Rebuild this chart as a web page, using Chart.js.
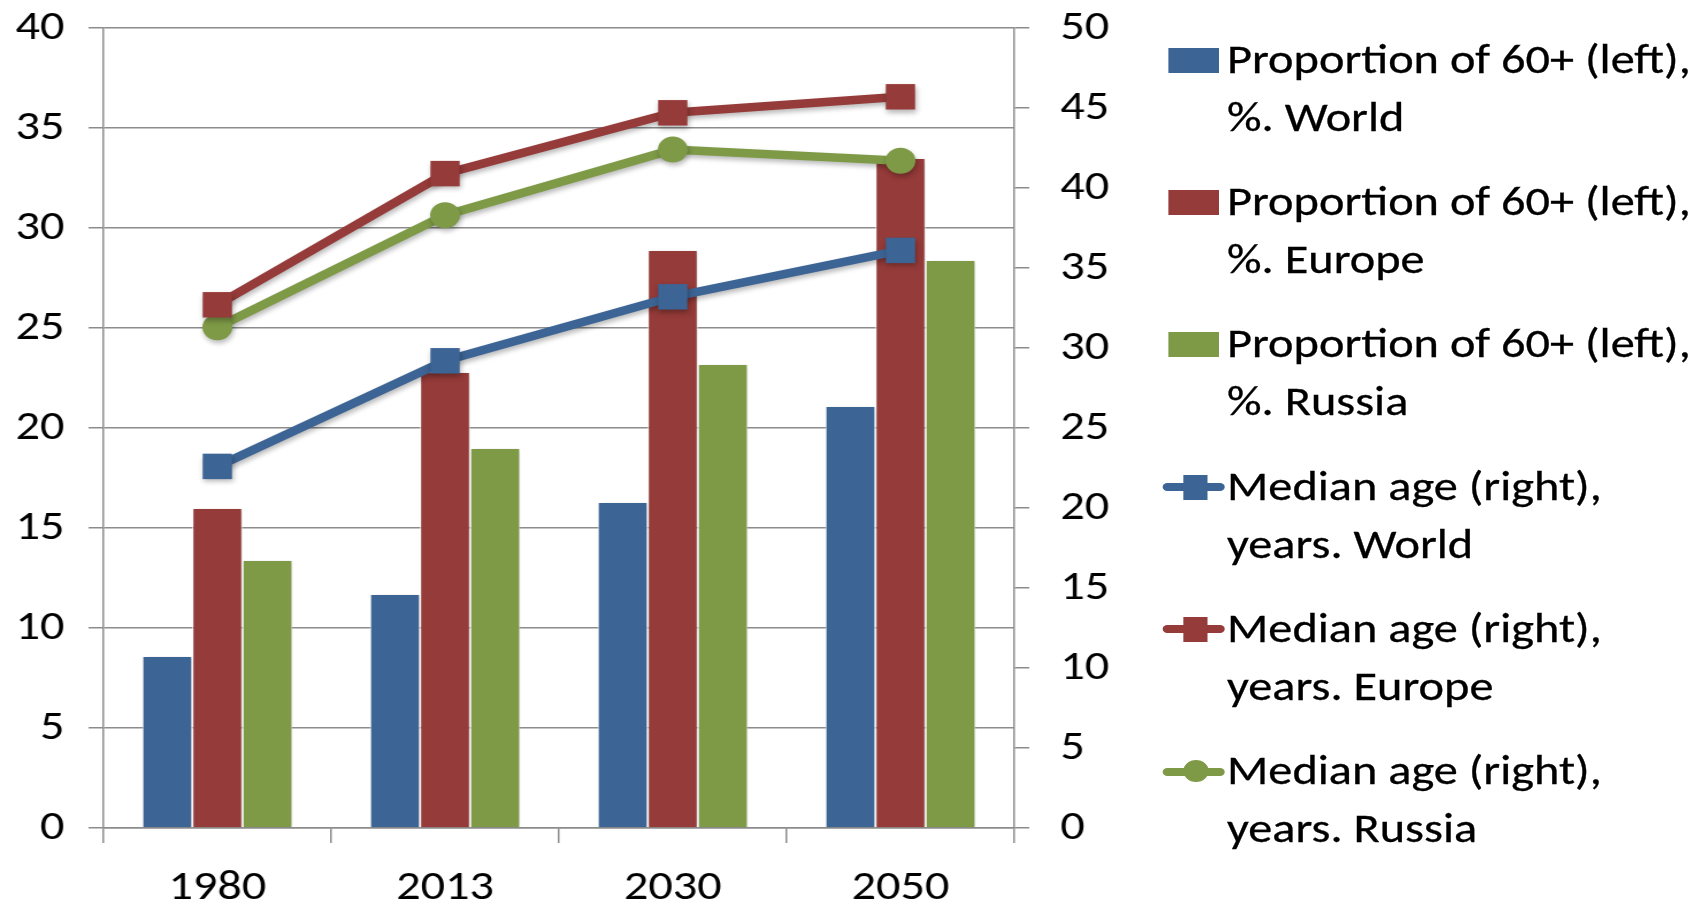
<!DOCTYPE html>
<html>
<head>
<meta charset="utf-8">
<script src="https://cdn.jsdelivr.net/npm/chart.js@4.4.1/dist/chart.umd.min.js"></script>
<style>
  html, body { margin: 0; padding: 0; background: #ffffff; overflow: hidden; }
  #outer { position: relative; width: 1705px; height: 910px; overflow: hidden; background: #ffffff; }
  #wrap { position: absolute; left: 0; top: 0; width: 1483px; height: 910px; transform: scaleX(1.15); transform-origin: 0 0; }
  #chart { position: absolute; left: 0; top: 0; }
  #legend { position: absolute; left: 1005px; top: 0; width: 478px; height: 910px; font-family: Carlito, Calibri, Lato, "Open Sans", sans-serif; color: #000; }
  .item { position: absolute; left: 0; display: flex; align-items: flex-start; }
  .mark { position: relative; width: 62px; height: 58px; flex: 0 0 62px; }
  .txt { font-size: 42px; line-height: 58px; white-space: nowrap; -webkit-text-stroke: 0.3px #000; }
</style>
</head>
<body>
<div id="outer">
  <div id="wrap">
    <canvas id="chart" width="1483" height="910"></canvas>
    <div id="legend"></div>
  </div>
</div>
<script>
// ---- data ----
const categories = ['1980', '2013', '2030', '2050'];
const share60World  = [8.6, 11.7, 16.3, 21.1];
const share60Europe = [16.0, 22.8, 28.9, 33.5];
const share60Russia = [13.4, 19.0, 23.2, 28.4];
const medianWorld   = [22.6, 29.2, 33.2, 36.1];
const medianEurope  = [32.7, 40.9, 44.7, 45.7];
const medianRussia  = [31.3, 38.3, 42.4, 41.7];
const leftTicks  = [0, 5, 10, 15, 20, 25, 30, 35, 40];
const rightTicks = [0, 5, 10, 15, 20, 25, 30, 35, 40, 45, 50];
const barLabels = [
  ['Proportion of 60+ (left),', '%. World'],
  ['Proportion of 60+ (left),', '%. Europe'],
  ['Proportion of 60+ (left),', '%. Russia']
];
const lineLabels = [
  ['Median age (right),', 'years. World'],
  ['Median age (right),', 'years. Europe'],
  ['Median age (right),', 'years. Russia']
];

// ---- styles ----
const BLUE = '#3C6494', RED = '#953B39', GREEN = '#7E9A47';
const GRID = '#8C8C8C';
const FONT = { family: 'Carlito, Calibri, Lato, "Open Sans", sans-serif', size: 42 };

const barSets = [share60World, share60Europe, share60Russia].map((d, i) => ({
  type: 'bar',
  label: barLabels[i].join(' '),
  data: d,
  yAxisID: 'y',
  backgroundColor: [BLUE, RED, GREEN][i],
  borderColor: '#ffffff',
  borderWidth: 1,
  categoryPercentage: 0.66,
  barPercentage: 1.0,
  order: 2
}));
const lineSets = [medianWorld, medianEurope, medianRussia].map((d, i) => ({
  type: 'line',
  label: lineLabels[i].join(' '),
  data: d,
  yAxisID: 'y1',
  borderColor: [BLUE, RED, GREEN][i],
  backgroundColor: [BLUE, RED, GREEN][i],
  borderWidth: 8.5,
  pointStyle: i === 2 ? 'circle' : 'rect',
  pointRadius: i === 2 ? 13 : 18,
  pointBorderWidth: 0,
  tension: 0,
  fill: false,
  order: 1
}));

const shadowPlugin = {
  id: 'shadow',
  beforeDatasetDraw(chart, args) {
    const ctx = chart.ctx;
    ctx.save();
    if (chart.data.datasets[args.index].type === 'line') {
      ctx.shadowColor = 'rgba(0,0,0,0.28)';
      ctx.shadowBlur = 5;
      ctx.shadowOffsetX = 1;
      ctx.shadowOffsetY = 3;
    } else {
      ctx.shadowColor = 'rgba(0,0,0,0.15)';
      ctx.shadowBlur = 4;
      ctx.shadowOffsetX = 2;
      ctx.shadowOffsetY = 1;
    }
  },
  afterDatasetDraw(chart) { chart.ctx.restore(); }
};

new Chart(document.getElementById('chart'), {
  data: { labels: categories, datasets: [...barSets, ...lineSets] },
  plugins: [shadowPlugin],
  options: {
    responsive: false,
    animation: false,
    layout: { padding: { top: 28, right: 501, left: 0, bottom: 0 } },
    plugins: { legend: { display: false }, tooltip: { enabled: false } },
    scales: {
      x: {
        type: 'category',
        offset: true,
        grid: { display: true, drawOnChartArea: false, drawTicks: true, tickLength: 15, color: GRID, lineWidth: 1.5, offset: true },
        border: { display: true, color: GRID, width: 1.5 },
        ticks: { color: '#000', font: FONT, padding: 20, maxRotation: 0 },
        afterFit(s) { s.height = 82; }
      },
      y: {
        position: 'left',
        min: 0, max: 40,
        afterBuildTicks(s) { s.ticks = leftTicks.map(v => ({ value: v })); },
        grid: { color: GRID, lineWidth: 1.5, tickLength: 13 },
        border: { display: true, color: GRID, width: 1.5 },
        ticks: { color: '#000', font: FONT, padding: 21 },
        afterFit(s) { s.width = 90; s.paddingTop = 0; s.paddingBottom = 0; }
      },
      y1: {
        position: 'right',
        min: 0, max: 50,
        afterBuildTicks(s) { s.ticks = rightTicks.map(v => ({ value: v })); },
        grid: { drawOnChartArea: false, color: GRID, lineWidth: 1.5, tickLength: 13 },
        border: { display: true, color: GRID, width: 1.5 },
        ticks: { color: '#000', font: FONT, padding: 27 },
        afterFit(s) { s.width = 100; s.paddingTop = 0; s.paddingBottom = 0; }
      }
    }
  }
});

// ---- HTML legend ----
const legend = document.getElementById('legend');
const allLabels = [...barLabels, ...lineLabels];
const allColors = [BLUE, RED, GREEN, BLUE, RED, GREEN];
allLabels.forEach((lines, i) => {
  const item = document.createElement('div');
  item.className = 'item';
  item.style.top = (30 + i * 142.2) + 'px';
  const mark = document.createElement('div');
  mark.className = 'mark';
  const c = allColors[i];
  if (i < 3) {
    mark.innerHTML = `<div style="position:absolute;left:11px;top:18px;width:44px;height:25px;background:${c}"></div>`;
  } else {
    const shape = i === 5
      ? `<div style="position:absolute;left:24px;top:19px;width:22px;height:22px;border-radius:50%;background:${c}"></div>`
      : `<div style="position:absolute;left:24px;top:18px;width:21px;height:25px;background:${c}"></div>`;
    mark.innerHTML = `<div style="position:absolute;left:6px;top:26.5px;width:54px;height:8px;border-radius:4px;background:${c}"></div>` + shape;
  }
  const txt = document.createElement('div');
  txt.className = 'txt';
  txt.innerHTML = lines.map(l => `<div>${l}</div>`).join('');
  item.appendChild(mark);
  item.appendChild(txt);
  legend.appendChild(item);
});
</script>
</body>
</html>
